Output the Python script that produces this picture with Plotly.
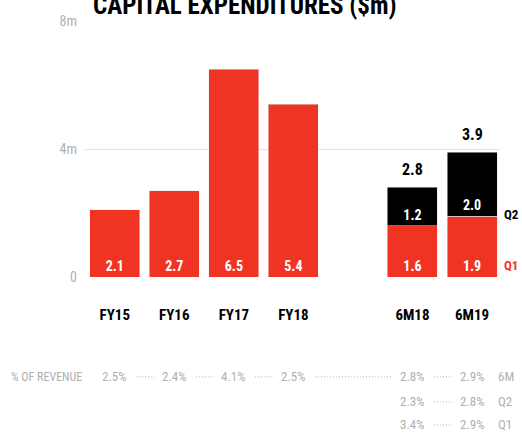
import plotly.graph_objects as go

# Capital expenditure in $m
fy_labels = ["FY15", "FY16", "FY17", "FY18"]
fy_values = [2.1, 2.7, 6.5, 5.4]

half_labels = ["6M18", "6M19"]
q1_values = [1.6, 1.9]
q2_values = [1.2, 2.0]
half_totals = [2.8, 3.9]

# Capex as % of revenue
pct_fy = ["2.5%", "2.4%", "4.1%", "2.5%"]
pct_6m = ["2.8%", "2.9%"]
pct_q2 = ["2.3%", "2.8%"]
pct_q1 = ["3.4%", "2.9%"]
row_names = ["6M", "Q2", "Q1"]

y_ticks = [0, 4, 8]
y_ticktext = ["0", "4m", "8m"]

RED = "#ef3424"
GREY = "#b0b0b0"
FONT = "Roboto Condensed, DejaVu Sans Condensed, sans-serif"

fy_x = [0, 1, 2, 3]
half_x = [5, 6]

label_font = dict(color="white", size=14, family=FONT, weight="bold")

fig = go.Figure()
fig.add_bar(
    x=fy_x, y=fy_values, marker_color=RED, width=0.84,
    text=[f"{v:.1f}" for v in fy_values], textposition="inside",
    insidetextanchor="start", textangle=0, textfont=label_font, hoverinfo="skip",
)
fig.add_bar(
    x=half_x, y=q1_values, marker_color=RED, width=0.84,
    text=[f"{v:.1f}" for v in q1_values], textposition="inside",
    insidetextanchor="start", textangle=0, textfont=label_font, hoverinfo="skip",
)
fig.add_bar(
    x=half_x, y=q2_values, marker_color="black", width=0.84,
    text=[f"{v:.1f}" for v in q2_values], textposition="inside",
    insidetextanchor="start", textangle=0, textfont=label_font, hoverinfo="skip",
)

annotations = []
# totals above the stacked half-year bars
for x, t in zip(half_x, half_totals):
    annotations.append(dict(
        x=x, y=t, xref="x", yref="y", text=f"<b>{t:.1f}</b>", showarrow=False,
        yanchor="bottom", yshift=6, font=dict(size=16, color="black", family=FONT)))

# series labels on the right, next to the last stacked bar
annotations.append(dict(x=1.0, y=1.94, xref="paper", yref="y", text="<b>Q2</b>", showarrow=False,
                        xanchor="left", yanchor="middle", xshift=2,
                        font=dict(size=13, color="black", family=FONT)))
annotations.append(dict(x=1.0, y=0.35, xref="paper", yref="y", text="<b>Q1</b>", showarrow=False,
                        xanchor="left", yanchor="middle", xshift=2,
                        font=dict(size=13, color=RED, family=FONT)))

# title
annotations.append(dict(x=0.385, y=1.0, xref="paper", yref="paper", text="<b>CAPITAL EXPENDITURES ($m)</b>",
                        showarrow=False, yanchor="bottom", xanchor="center", yshift=-1,
                        font=dict(size=25, color="black", family=FONT)))

# % of revenue table
row_y = [-0.39, -0.488, -0.578]
tfont = dict(size=13, color=GREY, family=FONT)
annotations.append(dict(x=-0.182, y=row_y[0], xref="paper", yref="paper", text="% OF REVENUE",
                        showarrow=False, xanchor="left", yanchor="middle",
                        font=dict(size=12, color=GREY, family=FONT)))
for x, t in zip(fy_x + half_x, pct_fy + pct_6m):
    annotations.append(dict(x=x, y=row_y[0], xref="x", yref="paper", text=t, showarrow=False,
                            yanchor="middle", font=tfont))
for x, t in zip(half_x, pct_q2):
    annotations.append(dict(x=x, y=row_y[1], xref="x", yref="paper", text=t, showarrow=False,
                            yanchor="middle", font=tfont))
for x, t in zip(half_x, pct_q1):
    annotations.append(dict(x=x, y=row_y[2], xref="x", yref="paper", text=t, showarrow=False,
                            yanchor="middle", font=tfont))
for y, t in zip(row_y, row_names):
    annotations.append(dict(x=1.0, y=y, xref="paper", yref="paper", text=t, showarrow=False,
                            xanchor="left", yanchor="middle", xshift=-4, font=tfont))

shapes = []
dot = dict(color=GREY, width=1, dash="1px,2px")
seq = fy_x + half_x
for a, b in zip(seq[:-1], seq[1:]):
    shapes.append(dict(type="line", xref="x", yref="paper", x0=a + 0.36, x1=b - 0.33,
                       y0=row_y[0], y1=row_y[0], line=dot))
for y in row_y[1:]:
    shapes.append(dict(type="line", xref="x", yref="paper", x0=5.36, x1=6 - 0.33,
                       y0=y, y1=y, line=dot))

fig.update_layout(
    width=522, height=433,
    margin=dict(l=85, r=22, t=21, b=156),
    barmode="stack",
    showlegend=False,
    paper_bgcolor="white", plot_bgcolor="white",
    annotations=annotations, shapes=shapes,
    xaxis=dict(range=[-0.5, 6.47], tickvals=fy_x + half_x, ticktext=fy_labels + half_labels,
               showgrid=False, zeroline=False, showline=False, ticks="",
               ticklabelstandoff=27,
               tickfont=dict(size=15, color="black", family=FONT, weight="bold")),
    yaxis=dict(range=[0, 8], tickvals=y_ticks, ticktext=y_ticktext,
               showgrid=True, gridcolor="#e3e3e3", gridwidth=1, zeroline=False,
               showline=False, ticks="", ticklabelstandoff=7,
               tickfont=dict(size=14, color=GREY, family=FONT)),
    font=dict(family=FONT),
)

fig.write_html("out.html")
